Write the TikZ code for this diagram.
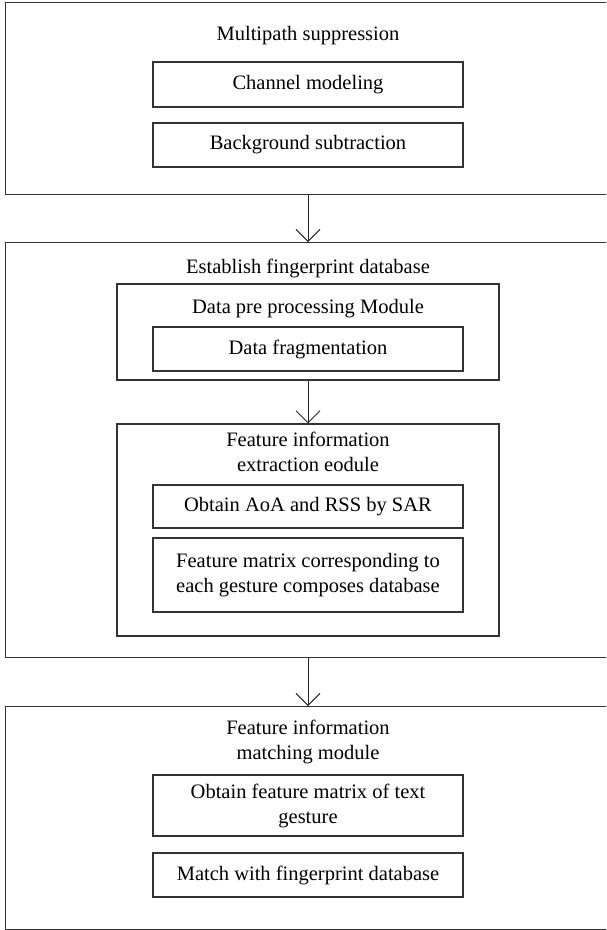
\documentclass[tikz,border=0pt]{standalone}
\usepackage{fontspec}
\setmainfont{Liberation Serif}
\usetikzlibrary{arrows.meta}
\tikzset{
  frame/.style={draw=black!80, line width=1.1pt, inner sep=0pt, anchor=north west},
  box/.style={draw=black!80, line width=1.1pt, inner sep=0pt, minimum width=310pt, align=center},
  midbox/.style={draw=black!80, line width=1.1pt, inner sep=0pt, minimum width=382pt},
  lbl/.style={inner sep=0pt, align=center},
  arr/.style={draw=black!85, line width=1pt, -{Straight Barb[length=12pt,width=24pt]}}
}
\begin{document}
\begin{tikzpicture}[x=1pt,y=-1pt, font=\fontsize{20.5}{25}\selectfont]
\useasboundingbox (0,0) rectangle (606,930);
\clip (0,0) rectangle (606,930);
% outer frames
\node[frame, minimum width=615pt, minimum height=192pt] (outer1) at (5,2) {};
\node[frame, minimum width=615pt, minimum height=415pt] (outer2) at (5,242) {};
\node[frame, minimum width=615pt, minimum height=223pt] (outer3) at (5,706) {};
% box 1
\node[lbl] (t1) at (308,36) {Multipath suppression};
\node[box, minimum height=45pt] (ch) at (308,84.5) {Channel modeling};
\node[box, minimum height=44pt] (bg) at (308,145) {Background subtraction};
% box 2
\node[lbl] (t2) at (308,268) {Establish fingerprint database};
\node[midbox, minimum height=96pt] (dpre) at (308,332) {};
\node[lbl] (t3) at (308,309) {Data pre processing Module};
\node[box, minimum height=44pt] (dfrag) at (308,349) {Data fragmentation};
\node[midbox, minimum height=212pt] (fext) at (308,530) {};
\node[lbl] (t4) at (308,452) {Feature information\\extraction eodule};
\node[box, minimum height=43pt] (aoa) at (308,506.5) {Obtain AoA and RSS by SAR};
\node[box, minimum height=74pt] (fmat) at (308,575) {Feature matrix corresponding to\\each gesture composes database};
% box 3
\node[lbl] (t5) at (308,742) {Feature information\\matching module};
\node[box, minimum height=61pt] (obt) at (308,805.5) {Obtain feature matrix of text\\gesture};
\node[box, minimum height=44pt] (match) at (308,875) {Match with fingerprint database};
% arrows
\draw[arr] (outer1.south -| ch.south) -- (outer2.north -| ch.south);
\draw[arr] (dpre.south) -- (fext.north);
\draw[arr] (outer2.south -| ch.south) -- (outer3.north -| ch.south);
\end{tikzpicture}
\end{document}
